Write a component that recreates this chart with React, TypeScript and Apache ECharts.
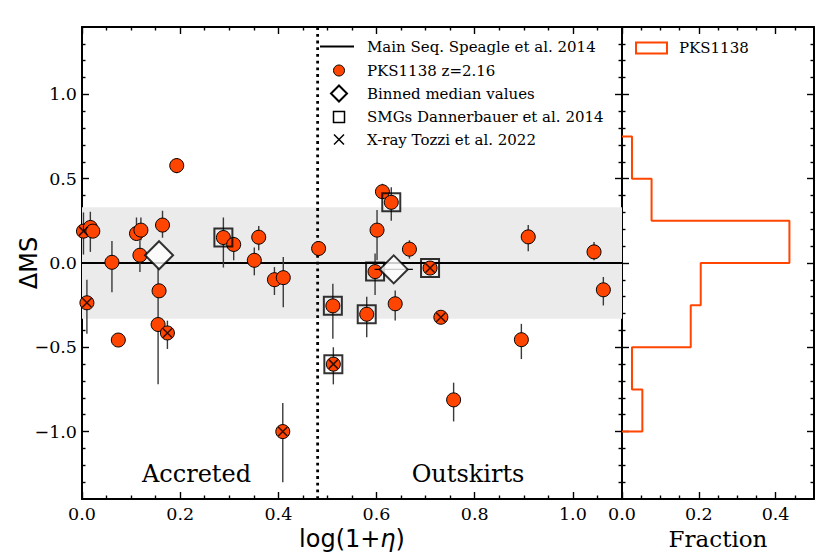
import React, { useEffect, useRef } from 'react';
import * as echarts from 'echarts';

// PKS1138 galaxies: log(1+eta), Delta MS, error bar low/high (null = none)
const pksX = [0.003, 0.017, 0.022, 0.010, 0.061, 0.074, 0.111, 0.120, 0.118, 0.164, 0.157, 0.155, 0.174, 0.193,
  0.288, 0.309, 0.351, 0.360, 0.392, 0.410, 0.409, 0.482, 0.511, 0.512, 0.580, 0.597, 0.601, 0.612, 0.630,
  0.638, 0.667, 0.709, 0.731, 0.757, 0.895, 0.909, 1.043, 1.062];
const pksY = [0.189, 0.211, 0.189, -0.236, 0.004, -0.457, 0.175, 0.195, 0.046, 0.225, -0.165, -0.365, -0.415, 0.578,
  0.151, 0.110, 0.016, 0.153, -0.099, -0.087, -1.000, 0.086, -0.254, -0.600, -0.304, -0.051, 0.195, 0.423, 0.360,
  -0.242, 0.082, -0.030, -0.322, -0.812, -0.455, 0.155, 0.066, -0.159];
const errLo = [0.05, 0.066, null, -0.42, -0.173, null, 0.135, 0.135, -0.054, 0.15, null, -0.72, -0.51, 0.533,
  -0.027, 0.016, -0.073, 0.076, -0.19, -0.262, -1.30, 0.04, -0.45, -0.72, -0.44, -0.19, 0.016, 0.385, 0.25,
  -0.341, 0.026, null, null, -0.94, -0.57, 0.07, 0.016, -0.252];
const errHi = [0.30, 0.304, null, -0.10, 0.131, null, 0.27, 0.27, 0.135, 0.31, null, -0.03, -0.342, 0.622,
  0.27, 0.155, 0.092, 0.219, -0.024, 0.036, -0.83, 0.13, -0.123, -0.50, -0.2, 0.056, 0.314, 0.47, 0.45,
  -0.163, 0.135, null, null, -0.71, -0.361, 0.225, 0.125, -0.083];

// SMGs (Dannerbauer et al. 2014)
const smgX = [0.288, 0.511, 0.512, 0.580, 0.597, 0.630, 0.709];
const smgY = [0.151, -0.254, -0.600, -0.304, -0.051, 0.360, -0.030];
// X-ray (Tozzi et al. 2022)
const xrayX = [0.003, 0.010, 0.174, 0.409, 0.512, 0.709, 0.731];
const xrayY = [0.189, -0.236, -0.415, -1.000, -0.600, -0.030, -0.322];
// Binned medians
const binX = [0.157, 0.635];
const binY = [0.046, -0.038];
const binXLo = [null, 0.596];
const binXHi = [null, 0.674];

// Main sequence line, scatter band, divider
const msX = [0, 1.1];
const msY = [0, 0];
const bandX = [0, 1.1];
const bandY = [-0.33, 0.33];
const dividerX = 0.48;

// Histogram
const histEdges = [-1.0, -0.75, -0.5, -0.25, 0, 0.25, 0.5, 0.75];
const histFrac = [0.053, 0.026, 0.179, 0.205, 0.436, 0.077, 0.026];

// Ticks
const xMajor = [0, 0.2, 0.4, 0.6, 0.8, 1.0];
const xMinor = [0.05, 0.1, 0.15, 0.25, 0.3, 0.35, 0.45, 0.5, 0.55, 0.65, 0.7, 0.75, 0.85, 0.9, 0.95, 1.05];
const yMajor = [-1, -0.5, 0, 0.5, 1];
const yMinor = [-1.3, -1.2, -1.1, -0.9, -0.8, -0.7, -0.6, -0.4, -0.3, -0.2, -0.1, 0.1, 0.2, 0.3, 0.4, 0.6, 0.7, 0.8, 0.9, 1.1, 1.2, 1.3];
const hMajor = [0, 0.2, 0.4];
const hMinor = [0.05, 0.1, 0.15, 0.25, 0.3, 0.35, 0.45];

const ORANGE = '#FF4500';
const SERIF = '"DejaVu Serif"';
const SANS = '"DejaVu Sans"';

const fmt = (v: number) => (v < -1e-9 ? '\u2212' : '') + Math.abs(v).toFixed(1);

function axis(kind: 'x' | 'y', grid: number, min: number, max: number, position: string,
  ticks: number[], major: boolean, labels: boolean) {
  return {
    type: 'value', gridIndex: grid, min, max, position,
    axisLine: { show: major, onZero: false, lineStyle: { color: '#000', width: 2 } },
    axisTick: { show: true, inside: true, length: major ? 7 : 3.5, customValues: ticks,
      lineStyle: { color: '#000', width: 1.4 } },
    axisLabel: { show: labels, customValues: ticks, formatter: fmt, fontFamily: SERIF, fontSize: 17.5,
      color: '#000', margin: kind === 'x' ? 6 : 5 },
    splitLine: { show: false },
    minorTick: { show: false },
  };
}

export default function App() {
  const ref = useRef<HTMLDivElement>(null);
  useEffect(() => {
    if (!ref.current) return;
    const chart = echarts.init(ref.current, null, { renderer: 'svg' });

    const pks = pksX.map((x, i) => [x, pksY[i]]);
    const errs = pksX.map((x, i) => [x, errLo[i], errHi[i]]).filter((d) => d[1] !== null);
    const smg = smgX.map((x, i) => [x, smgY[i]]);
    const xray = xrayX.map((x, i) => [x, xrayY[i]]);
    const bins = binX.map((x, i) => [x, binY[i]]);
    const binErr = binY.map((y, i) => [y, binXLo[i], binXHi[i]]).filter((d) => d[1] !== null);

    const hist: number[][] = [[0, histEdges[0]]];
    histFrac.forEach((f, i) => {
      hist.push([f, histEdges[i]]);
      hist.push([f, histEdges[i + 1]]);
    });
    hist.push([0, histEdges[histEdges.length - 1]]);

    const legendTexts = ['Main Seq. Speagle et al. 2014', 'PKS1138 z=2.16', 'Binned median values',
      'SMGs Dannerbauer et al. 2014', 'X-ray Tozzi et al. 2022'];
    const legendY = [46.5, 70.5, 93.5, 117, 139.5];
    const lx = 339;

    const option: any = {
      animation: false,
      backgroundColor: '#fff',
      grid: [
        { left: 82, top: 27, width: 540, height: 472 },
        { left: 622, top: 27, width: 192, height: 472 },
      ],
      xAxis: [
        axis('x', 0, 0, 1.1, 'bottom', xMajor, true, true),
        axis('x', 0, 0, 1.1, 'bottom', xMinor, false, false),
        axis('x', 0, 0, 1.1, 'top', xMajor, true, false),
        axis('x', 0, 0, 1.1, 'top', xMinor, false, false),
        axis('x', 1, 0, 0.5, 'bottom', hMajor, true, true),
        axis('x', 1, 0, 0.5, 'bottom', hMinor, false, false),
        axis('x', 1, 0, 0.5, 'top', hMajor, true, false),
        axis('x', 1, 0, 0.5, 'top', hMinor, false, false),
      ],
      yAxis: [
        axis('y', 0, -1.4, 1.4, 'left', yMajor, true, true),
        axis('y', 0, -1.4, 1.4, 'left', yMinor, false, false),
        axis('y', 0, -1.4, 1.4, 'right', yMajor, true, false),
        axis('y', 0, -1.4, 1.4, 'right', yMinor, false, false),
        axis('y', 1, -1.4, 1.4, 'left', yMajor, true, false),
        axis('y', 1, -1.4, 1.4, 'left', yMinor, false, false),
        axis('y', 1, -1.4, 1.4, 'right', yMajor, true, false),
        axis('y', 1, -1.4, 1.4, 'right', yMinor, false, false),
      ],
      series: [
        {
          type: 'custom', xAxisIndex: 0, yAxisIndex: 0, z: 1, silent: true,
          data: [[bandX[0], bandX[1], bandY[0], bandY[1]]],
          encode: { x: [0, 1], y: [2, 3] },
          renderItem: (_p: any, api: any) => {
            const a = api.coord([api.value(0), api.value(3)]);
            const b = api.coord([api.value(1), api.value(2)]);
            return { type: 'rect', shape: { x: a[0], y: a[1], width: b[0] - a[0], height: b[1] - a[1] },
              style: { fill: '#ebebeb' } };
          },
        },
        {
          type: 'line', xAxisIndex: 0, yAxisIndex: 0, z: 2, symbol: 'none',
          data: msX.map((x, i) => [x, msY[i]]),
          lineStyle: { color: '#000', width: 2 },
        },
        {
          type: 'line', xAxisIndex: 0, yAxisIndex: 0, z: 2, symbol: 'none',
          data: [[dividerX, -1.4], [dividerX, 1.4]],
          lineStyle: { color: '#000', width: 2.8, type: [2.8, 3.9] },
        },
        {
          type: 'custom', xAxisIndex: 0, yAxisIndex: 0, z: 3, silent: true,
          data: errs, encode: { x: 0, y: [1, 2] },
          renderItem: (_p: any, api: any) => {
            const a = api.coord([api.value(0), api.value(1)]);
            const b = api.coord([api.value(0), api.value(2)]);
            return { type: 'line', shape: { x1: a[0], y1: a[1], x2: b[0], y2: b[1] },
              style: { stroke: '#3a3a3a', lineWidth: 1.4 } };
          },
        },
        {
          type: 'scatter', xAxisIndex: 0, yAxisIndex: 0, z: 4, symbol: 'circle', symbolSize: 14,
          data: pks, itemStyle: { color: ORANGE, borderColor: '#000', borderWidth: 1, opacity: 1 },
        },
        {
          type: 'scatter', xAxisIndex: 0, yAxisIndex: 0, z: 5, symbol: 'rect', symbolSize: 18,
          data: smg, itemStyle: { color: 'rgba(0,0,0,0)', borderColor: '#000', borderWidth: 2 },
        },
        {
          type: 'scatter', xAxisIndex: 0, yAxisIndex: 0, z: 6, symbol: 'path://M0,0L10,10M10,0L0,10',
          symbolSize: 9,
          data: xray, itemStyle: { color: 'rgba(0,0,0,0)', borderColor: '#000', borderWidth: 1.5 },
        },
        {
          type: 'custom', xAxisIndex: 0, yAxisIndex: 0, z: 6, silent: true,
          data: binErr, encode: { y: 0, x: [1, 2] },
          renderItem: (_p: any, api: any) => {
            const a = api.coord([api.value(1), api.value(0)]);
            const b = api.coord([api.value(2), api.value(0)]);
            return { type: 'line', shape: { x1: a[0], y1: a[1], x2: b[0], y2: b[1] },
              style: { stroke: '#000', lineWidth: 1.4 } };
          },
        },
        {
          type: 'scatter', xAxisIndex: 0, yAxisIndex: 0, z: 7, symbol: 'diamond', symbolSize: 28,
          data: bins, itemStyle: { color: '#fff', borderColor: '#000', borderWidth: 2 },
        },
        {
          type: 'line', xAxisIndex: 4, yAxisIndex: 4, z: 3, symbol: 'none',
          data: hist, lineStyle: { color: ORANGE, width: 2 },
        },
      ],
      graphic: [
        { type: 'line', shape: { x1: 320, y1: legendY[0], x2: 354, y2: legendY[0] }, style: { stroke: '#000', lineWidth: 2 } },
        { type: 'circle', shape: { cx: lx, cy: legendY[1], r: 5.5 }, style: { fill: ORANGE, stroke: '#000', lineWidth: 1 } },
        { type: 'polygon', shape: { points: [[lx, legendY[2] - 8], [lx + 8, legendY[2]], [lx, legendY[2] + 8], [lx - 8, legendY[2]]] },
          style: { fill: '#fff', stroke: '#000', lineWidth: 2 } },
        { type: 'rect', shape: { x: lx - 5.5, y: legendY[3] - 5.5, width: 11, height: 11 }, style: { fill: 'none', stroke: '#000', lineWidth: 1.5 } },
        { type: 'line', shape: { x1: lx - 5, y1: legendY[4] - 5, x2: lx + 5, y2: legendY[4] + 5 }, style: { stroke: '#000', lineWidth: 1.5 } },
        { type: 'line', shape: { x1: lx + 5, y1: legendY[4] - 5, x2: lx - 5, y2: legendY[4] + 5 }, style: { stroke: '#000', lineWidth: 1.5 } },
        ...legendTexts.map((t, i) => ({
          type: 'text', x: 367, y: legendY[i],
          style: { text: t, fontFamily: SERIF, fontSize: 15, fill: '#000', textAlign: 'left', textVerticalAlign: 'middle' },
        })),
        { type: 'rect', shape: { x: 636, y: 42.5, width: 31, height: 11 }, style: { fill: 'none', stroke: ORANGE, lineWidth: 2 } },
        { type: 'text', x: 679, y: 48, style: { text: 'PKS1138', fontFamily: SERIF, fontSize: 15, fill: '#000', textAlign: 'left', textVerticalAlign: 'middle' } },
        { type: 'text', x: 196.5, y: 474, style: { text: 'Accreted', fontFamily: SERIF, fontSize: 24, fill: '#000', textAlign: 'center', textVerticalAlign: 'middle' } },
        { type: 'text', x: 468, y: 474, style: { text: 'Outskirts', fontFamily: SERIF, fontSize: 24, fill: '#000', textAlign: 'center', textVerticalAlign: 'middle' } },
        { type: 'text', x: 29, y: 263, rotation: Math.PI / 2,
          style: { text: '\u0394MS', fontFamily: SANS, fontSize: 24, fill: '#000', textAlign: 'center', textVerticalAlign: 'middle' } },
        { type: 'text', x: 352, y: 539,
          style: { text: '{a|log(1+}{b|\u03b7}{a|)}', textAlign: 'center', textVerticalAlign: 'middle',
            rich: { a: { fontFamily: SANS, fontSize: 24, fill: '#000' }, b: { fontFamily: SANS, fontSize: 24, fontStyle: 'italic', fill: '#000' } } } },
        { type: 'text', x: 718, y: 539, style: { text: 'Fraction', fontFamily: SERIF, fontSize: 23, fill: '#000', textAlign: 'center', textVerticalAlign: 'middle' } },
      ],
    };
    chart.setOption(option);
    return () => chart.dispose();
  }, []);
  return <div ref={ref} style={{ position: 'fixed', left: 0, top: 0, width: 830, height: 554, background: '#fff' }} />;
}
